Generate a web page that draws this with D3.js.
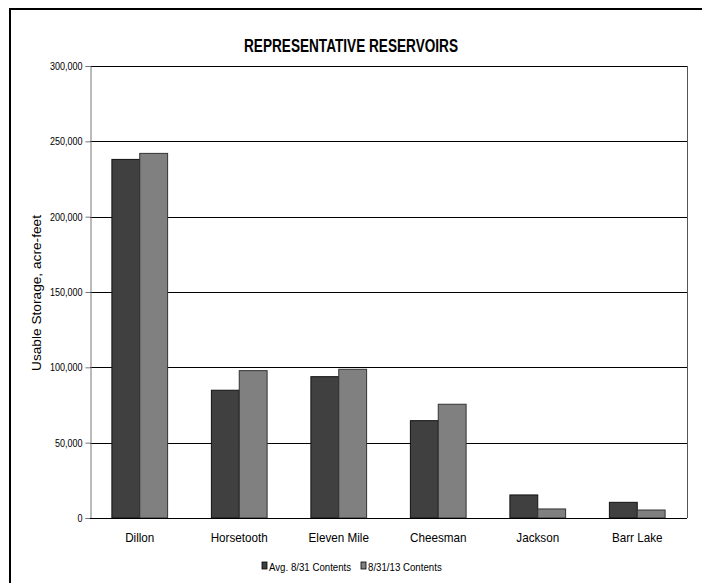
<!DOCTYPE html>
<html>
<head>
<meta charset="utf-8">
<script src="https://cdn.jsdelivr.net/npm/d3@7"></script>
<style>
  body { margin: 0; background: #fff; }
  svg { display: block; }
</style>
</head>
<body>
<div class="chart"></div>
<script>
// reservoir names and storage values (acre-feet)
const reservoirs = ["Dillon", "Horsetooth", "Eleven Mile", "Cheesman", "Jackson", "Barr Lake"];
const avgContents = [238000, 84800, 93800, 64600, 15300, 10400];
const currentContents = [242000, 97800, 98700, 75500, 6000, 5300];
const seriesNames = ["Avg. 8/31 Contents", "8/31/13 Contents"];
const seriesColors = ["#404040", "#808080"];
const yTicks = [0, 50000, 100000, 150000, 200000, 250000, 300000];

var cfg = {
  width: 702,
  height: 583,
  plot: {left: 90, right: 687, top: 66, bottom: 518}
};

var font = "'Liberation Sans', Arial, sans-serif";

var svg = d3.select(".chart").append("svg")
    .attr("width", cfg.width)
    .attr("height", cfg.height);

// outer frame (runs past the right/bottom edge like the source)
svg.append("rect")
    .attr("x", 10).attr("y", 9)
    .attr("width", 720).attr("height", 600)
    .attr("fill", "none")
    .attr("stroke", "#000")
    .attr("stroke-width", 2);

var x0 = d3.scaleBand()
    .domain(reservoirs)
    .range([cfg.plot.left, cfg.plot.right])
    .paddingInner(0.44)
    .paddingOuter(0.22);

var x1 = d3.scaleBand()
    .domain(seriesNames)
    .range([0, x0.bandwidth()]);

var y = d3.scaleLinear()
    .domain([0, 300000])
    .range([cfg.plot.bottom, cfg.plot.top]);

// gridlines
svg.append("g")
  .selectAll("line")
  .data(yTicks.slice(1))
  .enter().append("line")
    .attr("x1", cfg.plot.left).attr("x2", cfg.plot.right)
    .attr("y1", d => Math.round(y(d)) + 0.5)
    .attr("y2", d => Math.round(y(d)) + 0.5)
    .attr("stroke", "#000");

// right border of plot
svg.append("line")
    .attr("x1", cfg.plot.right + 0.5).attr("x2", cfg.plot.right + 0.5)
    .attr("y1", cfg.plot.top).attr("y2", cfg.plot.bottom)
    .attr("stroke", "#555");

// y axis
var yAxis = svg.append("g")
    .attr("transform", `translate(${cfg.plot.left + 0.5},0)`)
    .call(d3.axisLeft(y).tickValues(yTicks).tickSize(5).tickPadding(3)
      .tickFormat(d3.format(",")));
yAxis.select(".domain").attr("stroke", "#777");
yAxis.selectAll(".tick line").attr("stroke", "#777");
yAxis.selectAll(".tick text")
    .attr("x", null)
    .attr("transform", "translate(-8,0) scale(0.86,1)")
    .style("font-family", font)
    .style("font-size", "10.5px")
    .attr("fill", "#000");

// bars
var data = reservoirs.map((r, i) => ({name: r, values: [avgContents[i], currentContents[i]]}));

svg.append("g")
  .selectAll("g")
  .data(data)
  .enter().append("g")
    .attr("transform", d => `translate(${x0(d.name)},0)`)
  .selectAll("rect")
  .data(d => d.values.map((v, j) => ({series: seriesNames[j], value: v, j: j})))
  .enter().append("rect")
    .attr("x", d => x1(d.series))
    .attr("y", d => y(d.value))
    .attr("width", x1.bandwidth())
    .attr("height", d => y(0) - y(d.value))
    .attr("fill", d => seriesColors[d.j])
    .attr("stroke", d => d.j === 0 ? "#111" : "#333")
    .attr("stroke-width", 1);

// baseline
svg.append("line")
    .attr("x1", cfg.plot.left).attr("x2", cfg.plot.right)
    .attr("y1", cfg.plot.bottom + 0.5).attr("y2", cfg.plot.bottom + 0.5)
    .attr("stroke", "#000");

// x labels
svg.append("g")
  .selectAll("text")
  .data(reservoirs)
  .enter().append("text")
    .attr("transform", d => `translate(${x0(d) + x0.bandwidth() / 2},542) scale(0.9,1)`)
    .attr("text-anchor", "middle")
    .style("font-family", font)
    .style("font-size", "13px")
    .text(d => d);

// title
svg.append("text")
    .attr("x", 351)
    .attr("y", 52)
    .attr("text-anchor", "middle")
    .attr("textLength", 214)
    .attr("lengthAdjust", "spacingAndGlyphs")
    .style("font-family", font)
    .style("font-weight", "bold")
    .style("font-size", "18px")
    .text("REPRESENTATIVE RESERVOIRS");

// y axis title
svg.append("text")
    .attr("transform", "translate(41,293) rotate(-90)")
    .attr("text-anchor", "middle")
    .style("font-family", font)
    .style("font-size", "13px")
    .attr("textLength", 156)
    .attr("lengthAdjust", "spacingAndGlyphs")
    .text("Usable Storage, acre-feet");

// legend
var legendX = [262, 361];
var legend = svg.append("g")
  .selectAll("g")
  .data(seriesNames)
  .enter().append("g")
    .attr("transform", (d, i) => `translate(${legendX[i]},562)`);

legend.append("rect")
    .attr("width", 5).attr("height", 7)
    .attr("fill", (d, i) => seriesColors[i])
    .attr("stroke", "#000")
    .attr("stroke-width", 0.8);

legend.append("text")
    .attr("transform", "translate(7,8.5) scale(0.88,1)")
    .style("font-family", font)
    .style("font-size", "11px")
    .text(d => d);
</script>
</body>
</html>
